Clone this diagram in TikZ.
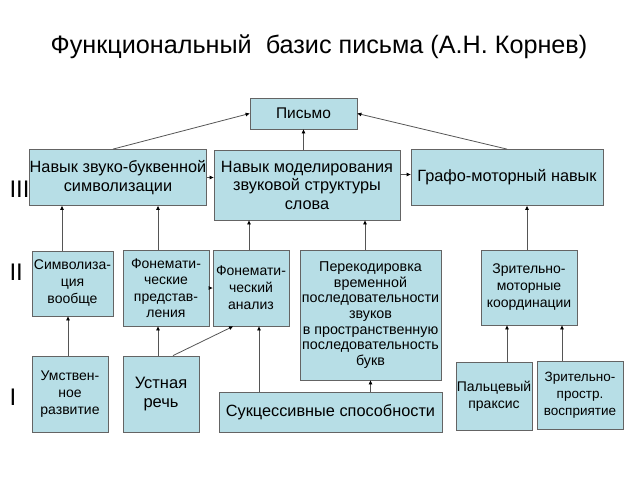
\documentclass[tikz,border=0pt]{standalone}
\usepackage{fontspec}
\setmainfont{Liberation Sans}
\usepackage{tikz}
\usetikzlibrary
  {
    arrows.meta,              % small filled arrow heads
    positioning,              % place nodes relative to other nodes
  }
\definecolor{boxfill}{RGB}{183,222,230}
\definecolor{boxline}{RGB}{100,100,100}
\definecolor{linkline}{RGB}{85,85,85}

\begin{document}
\begin{tikzpicture}
    [
      x=1pt, y=-1pt,
      box/.style=
        {
          rectangle,
          draw=boxline,
          fill=boxfill,
          line width=0.8pt,
          inner sep=0pt,
          align=center,
        },
      link/.style=
        {
          draw=linkline,
          line width=0.8pt,
          -{Triangle[length=4pt,width=3.5pt,color=black]},
        },
      levelnum/.style=
        {
          anchor=west,
          font=\fontsize{24}{26}\selectfont,
        },
    ]
    \useasboundingbox (0,0) rectangle (640,480);
    \node[font=\fontsize{25.2}{28}\selectfont] (title) at (319,47)
      {Функциональный\ \ базис письма (А.Н. Корнев)};

    % level III
    \node[box, minimum width=107pt, minimum height=31pt,
          font=\fontsize{15.5}{18}\selectfont] (pismo) at (303.5,113.5)
      {Письмо};
    \node[box, minimum width=172pt, minimum height=56pt,
          font=\fontsize{16.3}{18.5}\selectfont] (navyk) at (118,177.5)
      {Навык звуко-буквенной\\символизации};
    \node[box, minimum width=186pt, minimum height=70pt,
          font=\fontsize{16.3}{18.5}\selectfont] (model) at (307,185)
      {Навык моделирования\\звуковой структуры\\слова};
    \node[box, minimum width=192pt, minimum height=56pt,
          font=\fontsize{16.3}{18.5}\selectfont] (grafo) at (507,177.5)
      {Графо-моторный навык};

    % level II
    \node[box, minimum width=81pt, minimum height=65pt,
          font=\fontsize{14}{17}\selectfont] (simvol) at (72.5,283.5)
      {Символиза-\\ция\\вообще};
    \node[box, minimum width=86pt, minimum height=76pt,
          font=\fontsize{14}{16.5}\selectfont] (fonpred) at (166,288)
      {Фонемати-\\ческие\\представ-\\ления};
    \node[box, minimum width=76pt, minimum height=76pt,
          font=\fontsize{14}{17}\selectfont] (fonanal) at (251,288)
      {Фонемати-\\ческий\\анализ};
    \node[box, minimum width=141pt, minimum height=130pt,
          font=\fontsize{14.3}{15.7}\selectfont] (perekod) at (370.5,315)
      {Перекодировка\\временной\\последовательности\\звуков\\в пространственную\\последовательность\\букв};
    \node[box, minimum width=96pt, minimum height=75pt,
          font=\fontsize{14}{17}\selectfont] (zrmotor) at (529,287.5)
      {Зрительно-\\моторные\\координации};

    % level I
    \node[box, minimum width=76pt, minimum height=76pt,
          font=\fontsize{14}{17}\selectfont] (umstv) at (70,394)
      {Умствен-\\ное\\развитие};
    \node[box, minimum width=76pt, minimum height=76pt,
          font=\fontsize{16.5}{19}\selectfont] (ustn) at (161,394)
      {Устная\\речь};
    \node[box, minimum width=223pt, minimum height=40pt,
          font=\fontsize{16.3}{19}\selectfont] (sukces) at (330.5,412)
      {Сукцессивные способности};
    \node[box, minimum width=76pt, minimum height=68pt,
          font=\fontsize{14}{17}\selectfont] (palc) at (494,396)
      {Пальцевый\\праксис};
    \node[box, minimum width=86pt, minimum height=68pt,
          font=\fontsize{13.5}{17}\selectfont] (zrprostr) at (580,395)
      {Зрительно-\\простр.\\восприятие};

    \node[levelnum] (lvlthree) at (6,189) {III};
    \node[levelnum] (lvltwo)   at (6,272) {II};
    \node[levelnum] (lvlone)   at (6,397) {I};

    \draw[link] ([xshift=-5pt]navyk.north) -- (pismo.west);
    \draw[link] (pismo.south |- model.north) -- (pismo.south);
    \draw[link] (grafo.north) -- (pismo.east);
    \draw[link] (navyk.east) -- (navyk.east -| model.west);
    \draw[link] ([yshift=3pt]grafo.west -| model.east) -- ([yshift=3pt]grafo.west);

    \draw[link] ([xshift=-10.5pt]simvol.north) -- ([xshift=-56pt]navyk.south);
    \draw[link] ([xshift=-8pt]fonpred.north) -- ([xshift=40pt]navyk.south);
    \draw[link] ([xshift=-2pt]fonanal.north) -- ([xshift=-58pt]model.south);
    \draw[link] ([xshift=-5.5pt]perekod.north) -- ([xshift=58pt]model.south);
    \draw[link] ([xshift=-2pt]zrmotor.north) -- ([xshift=20pt]grafo.south);
    \draw[link] (fonpred.east) -- (fonanal.west);

    \draw[link] ([xshift=-2pt]umstv.north) -- ([xshift=-4.5pt]simvol.south);
    \draw[link] ([xshift=-3pt]ustn.north) -- ([xshift=-8pt]fonpred.south);
    \draw[link] ([xshift=12pt]ustn.north) -- ([xshift=-18pt]fonanal.south);
    \draw[link] ([xshift=-71.5pt]sukces.north) -- ([xshift=8pt]fonanal.south);
    \draw[link] (perekod.south |- sukces.north) -- (perekod.south);
    \draw[link] ([xshift=13pt]palc.north) -- ([xshift=-22pt]zrmotor.south);
    \draw[link] ([xshift=-18pt]zrprostr.north) -- ([xshift=33pt]zrmotor.south);
\end{tikzpicture}
\end{document}
